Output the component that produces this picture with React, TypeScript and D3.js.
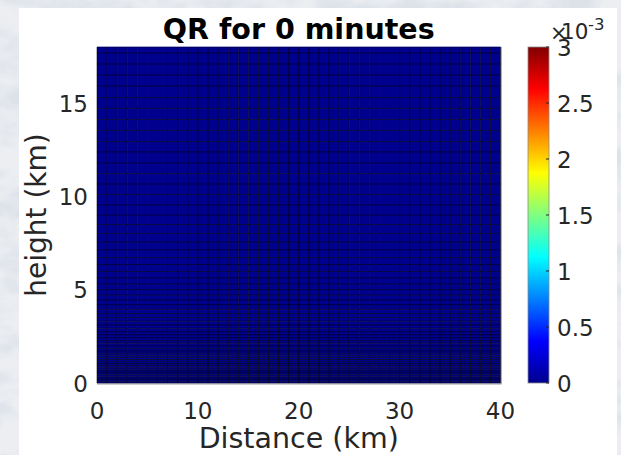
import React from "react";
import * as d3 from "d3";

// ---- data ----
const title = "QR for 0 minutes";
const xLabel = "Distance (km)";
const yLabel = "height (km)";
const xEdges = [0,1,2,3,4,5,6,7,8,9,10,11,12,13,14,15,16,17,18,19,20,21,22,23,24,25,26,27,28,29,30,31,32,33,34,35,36,37,38,39,40];
const zEdges = [0,0.09,0.18,0.27,0.36,0.46,0.55,0.65,0.74,0.84,0.94,1.04,1.15,1.26,1.37,1.48,1.6,1.72,1.85,1.99,2.13,2.27,2.42,2.58,2.75,2.93,3.11,3.31,3.51,3.72,3.95,4.19,4.45,4.71,5.0,5.3,5.63,5.97,6.34,6.72,7.13,7.55,8.01,8.49,9.0,9.54,10.1,10.66,11.23,11.79,12.38,12.94,13.53,14.12,14.71,15.29,15.91,16.5,17.09,17.68,18.0];
const qrValue = 0; // every cell is 0 at t = 0 minutes
const xTicks = [0, 10, 20, 30, 40];
const yTicks = [0, 5, 10, 15];
const cTicks = [0, 0.5, 1, 1.5, 2, 2.5, 3];
const cLabels = ["0", "0.5", "1", "1.5", "2", "2.5", "3"];
const cMax = 3; // x10^-3

const jetStops: [number, string][] = [
  [0, "#00008F"], [0.125, "#0000FF"], [0.375, "#00FFFF"], [0.625, "#FFFF00"], [0.875, "#FF0000"], [1, "#800000"],
];

const W = 621, H = 455;
const PL = 97, PR = 500.5, PT = 47, PB = 383;
const CBL = 528, CBR = 549;
const FONT = "DejaVu Sans, sans-serif";

export default function App() {
  const x = d3.scaleLinear().domain([0, 40]).range([PL, PR]);
  const y = d3.scaleLinear().domain([0, 18]).range([PB, PT]);
  const cy = d3.scaleLinear().domain([0, cMax]).range([PB, PT]);
  const jet = d3.scaleLinear<string>().domain(jetStops.map(s => s[0] * cMax)).range(jetStops.map(s => s[1]));

  const cells: JSX.Element[] = [];
  for (let i = 0; i < xEdges.length - 1; i++) {
    for (let j = 0; j < zEdges.length - 1; j++) {
      const x0 = x(xEdges[i]), x1 = x(xEdges[i + 1]);
      const y0 = y(zEdges[j + 1]), y1 = y(zEdges[j]);
      cells.push(<rect key={`${i}-${j}`} x={x0} y={y0} width={x1 - x0 + 0.3} height={y1 - y0 + 0.3} fill={jet(qrValue)} />);
    }
  }

  return (
    <svg width={W} height={H} style={{ position: "absolute", left: 0, top: 0 }} fontFamily={FONT}>
      <defs>
        <filter id="clouds" x="0" y="0" width="100%" height="100%">
          <feTurbulence type="fractalNoise" baseFrequency="0.02 0.035" numOctaves={4} seed={7} />
          <feColorMatrix type="matrix" values="0 0 0 0 0.72  0 0 0 0 0.76  0 0 0 0 0.82  2.2 2.2 0 0 -1.9" />
        </filter>
        <linearGradient id="jetGrad" x1="0" y1="1" x2="0" y2="0">
          {jetStops.map(([o, c]) => <stop key={o} offset={o} stopColor={c} />)}
        </linearGradient>
      </defs>
      <rect x={0} y={0} width={W} height={H} fill="#eceef1" />
      <rect x={0} y={0} width={W} height={H} fill="#fff" filter="url(#clouds)" />
      <rect x={19} y={8} width={598} height={H - 8} fill="#ffffff" />

      {/* pcolor cells */}
      <g>{cells}</g>
      {/* mesh edges */}
      <g stroke="#000" strokeOpacity={0.55} strokeWidth={1}>
        {xEdges.map(v => <line key={"vx" + v} x1={x(v)} x2={x(v)} y1={PT} y2={PB} />)}
        {zEdges.map(v => <line key={"hz" + v} x1={PL} x2={PR} y1={y(v)} y2={y(v)} />)}
      </g>
      <line x1={PL} x2={PR} y1={PT - 0.5} y2={PT - 0.5} stroke="#a8a8d8" strokeWidth={1} />
      <line x1={PL} x2={PR + 1} y1={PB + 1} y2={PB + 1} stroke="#9a9a9a" strokeWidth={1.2} />
      <line x1={PR + 0.8} x2={PR + 0.8} y1={PT} y2={PB + 1} stroke="#9a9a9a" strokeWidth={1} />

      {/* axis tick labels */}
      <g fontSize={23} fill="#262626">
        {xTicks.map(t => <text key={"xt" + t} x={x(t)} y={419} textAnchor="middle">{t}</text>)}
        {yTicks.map(t => <text key={"yt" + t} x={88} y={y(t) + 8.5} textAnchor="end">{t}</text>)}
      </g>
      <text x={(PL + PR) / 2} y={448} textAnchor="middle" fontSize={28.5} fill="#262626">{xLabel}</text>
      <text transform={`translate(46,${(PT + PB) / 2}) rotate(-90)`} textAnchor="middle" fontSize={28} fill="#262626">{yLabel}</text>
      <text x={(PL + PR) / 2} y={39} textAnchor="middle" fontSize={28.5} fontWeight="bold" fill="#000">{title}</text>

      {/* colorbar */}
      <rect x={CBL} y={PT} width={CBR - CBL} height={PB - PT} fill="url(#jetGrad)" stroke="#8a8a8a" strokeWidth={0.8} />
      <g stroke="#262626" strokeWidth={1}>
        {cTicks.map(t => <line key={"ctl" + t} x1={CBR - 3} x2={CBR} y1={cy(t)} y2={cy(t)} />)}
      </g>
      <g fontSize={23} fill="#262626">
        {cTicks.map((t, i) => <text key={"ct" + t} x={557} y={cy(t) + 8.5}>{cLabels[i]}</text>)}
      </g>
      <text x={550} y={40} fontSize={21} fill="#262626">×</text>
      <text x={561} y={39} fontSize={21.5} fill="#262626">10</text>
      <text x={588} y={30} fontSize={16.5} fill="#262626">-3</text>
    </svg>
  );
}
